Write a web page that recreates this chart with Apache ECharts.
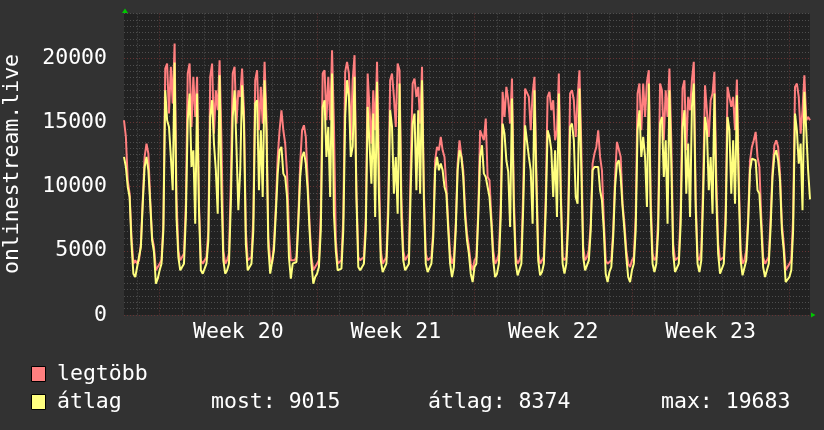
<!DOCTYPE html>
<html>
<head>
<meta charset="utf-8">
<script src="https://cdn.jsdelivr.net/npm/echarts@6/dist/echarts.min.js"></script>
<style>
  html, body { margin: 0; padding: 0; background: #323232; }
  #chart { width: 824px; height: 430px; }
</style>
</head>
<body>
<div id="chart"></div>
<script>
// 2 órás pontok, szombat 10:00-tól (Week 19) hétfő 22:00-ig (Week 24)
var legtobb = [
  15180, 13880, 10500, 9460, 6080, 4000, 4260,
  4000, 4260, 5560, 8940, 12320, 13360, 12580, 8940, 6080, 5300, 3480, 3610,
  // week 20
  4000, 4260, 7120, 19210, 19600, 15700, 19340, 16480, 21160, 9200, 5040, 4260,
  4260, 4780, 8680, 18820, 19600, 14660, 18560, 15440, 18560, 8680, 4260, 4000,
  4260, 4520, 6600, 18560, 19600, 14140, 17520, 15960, 19860, 13620, 5040, 4000,
  4260, 4780, 10500, 18820, 19340, 14920, 17520, 17000, 19210, 15960, 6600, 4260,
  4260, 4520, 7640, 18300, 19080, 14400, 17780, 14920, 19730, 15440, 6080, 4260,
  4000, 5560, 8420, 12320, 14400, 15960, 14400, 13360, 11020, 6600, 4260, 4260,
  4260, 4520, 7640, 11800, 14400, 14790, 13880, 10500, 7120, 4520, 3480, 3740,
  // week 21
  4000, 4260, 7900, 18820, 19080, 15180, 18560, 15180, 20640, 14920, 5820, 4000,
  4000, 4260, 7640, 18950, 19730, 18820, 13620, 18300, 20250, 9720, 4520, 4260,
  4260, 4520, 7640, 18820, 18820, 13360, 17520, 14400, 19730, 11800, 5040, 4000,
  4260, 4520, 9200, 18300, 18820, 17000, 14660, 19600, 19080, 9200, 5040, 4260,
  4260, 4780, 11800, 18040, 18430, 17000, 17780, 14920, 19340, 9720, 4780, 4260,
  4260, 4520, 6600, 12060, 13100, 12840, 13880, 12840, 12320, 9980, 7120, 4780,
  4000, 4520, 7120, 11800, 13620, 13620, 11280, 8160, 6340, 5300, 4000, 3480,
  // week 22
  4260, 4520, 8160, 14400, 14530, 13620, 15310, 10760, 10500, 7640, 5040, 4000,
  4260, 4780, 8680, 17390, 15440, 17780, 16740, 14920, 18430, 9200, 4520, 4000,
  4260, 4780, 9720, 17650, 17520, 17000, 14400, 17260, 18560, 11280, 4780, 4000,
  4260, 4520, 9200, 17000, 17390, 15960, 16740, 13620, 14400, 18820, 10240, 4520,
  4260, 4520, 8160, 17260, 17520, 16740, 13880, 17000, 19080, 13100, 5300, 4260,
  4520, 5040, 7120, 11800, 12580, 13100, 14400, 12320, 11280, 7380, 4260, 4000,
  4000, 4260, 6600, 10760, 13490, 13620, 12320, 8680, 7120, 5040, 4000, 3740,
  // week 23
  4260, 4520, 7640, 17260, 18040, 14400, 18040, 15440, 18170, 19080, 9200, 4780,
  4260, 4520, 7640, 18040, 17520, 13620, 17520, 15440, 19210, 13620, 5560, 4260,
  4260, 4520, 8160, 17650, 18300, 12840, 17000, 15960, 18300, 19730, 9200, 4520,
  4260, 5040, 10500, 17910, 18040, 13880, 16740, 17260, 18950, 10760, 5560, 4260,
  4260, 4520, 8160, 17780, 17910, 16220, 17000, 14400, 18350, 10760, 5040, 4000,
  4260, 5040, 7640, 12060, 13100, 13620, 14270, 12320, 11540, 7640, 4520, 4000,
  4260, 4520, 7640, 11280, 13230, 13620, 13100, 11020, 7120, 5560, 3480, 3480,
  // week 24
  4000, 4260, 7640, 17780, 18040, 17000, 14140, 15960, 18690, 15180, 15440, 15180
];

var atlag = [
  12320, 11540, 9980, 9200, 5560, 3220, 2960,
  3740, 3870, 5300, 8680, 11540, 12320, 11280, 8680, 5820, 4910, 2440, 2830,
  // week 20
  3480, 4000, 6600, 17520, 15180, 14660, 12320, 9720, 19683, 7640, 4520, 3480,
  3480, 4000, 7640, 15180, 17260, 11540, 12840, 7120, 17260, 8160, 3480, 3220,
  3220, 4000, 5820, 15440, 16740, 13360, 11280, 7900, 18690, 9720, 4260, 3220,
  3480, 4000, 8680, 15440, 17520, 13100, 8160, 11280, 17910, 14920, 5560, 3480,
  3350, 4000, 6600, 16480, 16740, 9720, 14400, 9200, 18300, 14400, 5300, 3220,
  3090, 5040, 7900, 11020, 12840, 13100, 11020, 10760, 9200, 4520, 2830, 4000,
  4000, 4130, 7120, 10760, 12320, 12710, 11800, 9720, 6600, 4000, 2440, 2960,
  // week 21
  3220, 3740, 6600, 16220, 16740, 12320, 14660, 9200, 18820, 7900, 5040, 3480,
  3480, 3610, 6600, 15440, 18300, 17000, 12320, 13100, 18560, 9200, 3740, 3480,
  3740, 4000, 6600, 16220, 13360, 10240, 15700, 7640, 18170, 9460, 4260, 3350,
  3480, 4000, 7900, 15960, 14660, 9460, 12320, 7900, 18040, 7640, 4260, 3480,
  3480, 4000, 9980, 14920, 15700, 9720, 15960, 9460, 18300, 8940, 4000, 3350,
  3480, 4000, 6080, 11280, 12320, 11280, 11800, 11280, 9980, 9460, 6600, 4000,
  2960, 3740, 6600, 11280, 12840, 12320, 10760, 7640, 5820, 4780, 3220, 2570,
  // week 22
  3740, 4000, 7640, 12320, 13230, 11020, 10760, 9980, 9200, 7120, 4260, 2960,
  3220, 4000, 7640, 14920, 14140, 12060, 11150, 6860, 16870, 8160, 4000, 3090,
  3220, 4000, 8420, 14790, 14920, 12320, 11280, 7120, 17520, 10240, 4260, 3090,
  3350, 4000, 8160, 14400, 13880, 12840, 9200, 12840, 7640, 17260, 9460, 4000,
  3220, 4000, 7120, 14660, 14920, 13620, 9200, 8680, 17650, 11280, 4520, 3480,
  3480, 4260, 6600, 11280, 11540, 11670, 11540, 9720, 8940, 6600, 3220, 2570,
  3350, 3740, 6080, 9980, 11800, 12060, 10760, 8420, 6600, 4520, 2960, 2570,
  // week 23
  3480, 4000, 6600, 14400, 15960, 12320, 13880, 12320, 8420, 18040, 8160, 4000,
  3350, 4000, 6600, 14920, 15440, 10760, 13620, 7120, 17520, 11800, 4780, 3350,
  3350, 4000, 7120, 14660, 15960, 9460, 13360, 7640, 16220, 18040, 8420, 4000,
  3350, 4260, 9200, 15440, 14400, 9720, 12320, 7900, 17260, 9200, 4780, 3220,
  3350, 4000, 7120, 15440, 14400, 9460, 13620, 8680, 17130, 9720, 4260, 3090,
  3090, 4260, 7120, 11280, 12190, 12190, 12060, 9720, 9460, 6860, 3740, 2960,
  3480, 4000, 6860, 10760, 12450, 12840, 12060, 10500, 6600, 5040, 2570, 2440,
  // week 24
  2960, 3480, 6600, 15700, 14400, 11800, 13360, 8160, 17390, 14400, 11280, 9015
];

var weekLabels = ['Week 20', 'Week 21', 'Week 22', 'Week 23'];
var yLabels = [0, 5000, 10000, 15000, 20000];
var most = 9015, atlagErtek = 8374, maxErtek = 19683;

var FONT = 'DejaVu Sans Mono';
var start = Date.UTC(2015, 4, 9, 10); // szombat 10:00
var times = legtobb.map(function (v, i) { return start + i * 2 * 3600 * 1000; });
var categories = times.map(function (t) { return String(t); });

function isMidnight(i) { return new Date(times[i]).getUTCHours() === 0; }
var weekLabelAt = {};
var wk = 0;
times.forEach(function (t, i) {
  var d = new Date(t);
  if (d.getUTCDay() === 4 && d.getUTCHours() === 12 && wk < weekLabels.length) {
    weekLabelAt[i] = weekLabels[wk++];
  }
});

var minorColor = '#4e4e4e';
var majorColor = '#663434';
// hétfőnként piros vonal (első éjfél vasárnap)
var xLineColors = [minorColor, majorColor, minorColor, minorColor, minorColor, minorColor, minorColor];
var yLineColors = [majorColor];
for (var k = 0; k < 9; k++) yLineColors.push(minorColor);

var chart = echarts.init(document.getElementById('chart'));
chart.setOption({
  backgroundColor: '#323232',
  animation: false,
  grid: {
    left: 124, right: 14, top: 13.5, bottom: 115,
    show: true, backgroundColor: '#222222', borderWidth: 0
  },
  xAxis: {
    type: 'category',
    data: categories,
    boundaryGap: false,
    axisLine: { show: false },
    axisTick: { show: false },
    axisLabel: {
      interval: function (index) { return weekLabelAt[index] !== undefined; },
      formatter: function (value, index) { return weekLabelAt[index] || ''; },
      color: '#ffffff',
      fontFamily: FONT,
      fontSize: 21.5,
      margin: 6
    },
    splitLine: {
      show: true,
      interval: function (index) { return isMidnight(index); },
      lineStyle: { color: xLineColors, width: 1, type: [1, 2] }
    }
  },
  yAxis: {
    type: 'value',
    min: 0,
    max: 23500,
    interval: 500,
    axisLine: { show: false },
    axisTick: { show: false },
    axisLabel: {
      formatter: function (v) { return yLabels.indexOf(v) >= 0 ? String(v) : ''; },
      color: '#ffffff',
      fontFamily: FONT,
      fontSize: 21.5,
      margin: 17
    },
    splitLine: {
      show: true,
      lineStyle: { color: yLineColors, width: 1, type: [1, 2] }
    }
  },
  series: [{
    name: 'legtöbb',
    type: 'line',
    data: legtobb,
    showSymbol: false,
    color: '#ff7f7f',
    lineStyle: { width: 2, color: '#ff7f7f' },
    z: 3
  }, {
    name: 'átlag',
    type: 'line',
    data: atlag,
    showSymbol: false,
    color: '#ffff7f',
    lineStyle: { width: 2, color: '#ffff7f' },
    z: 4
  }],
  graphic: [
    {
      type: 'text', x: 12, y: 164, rotation: Math.PI / 2,
      style: { text: 'onlinestream.live', fill: '#ffffff', font: '21.5px "' + FONT + '"', align: 'center', verticalAlign: 'middle' }
    },
    { type: 'polygon', shape: { points: [[122, 13], [128, 13], [125, 8.5]] }, style: { fill: '#00c800' } },
    { type: 'polygon', shape: { points: [[811, 312.5], [811, 317.5], [815.5, 315]] }, style: { fill: '#00c800' } },
    { type: 'rect', shape: { x: 31.5, y: 366.5, width: 14, height: 15 }, style: { fill: '#ff7f7f', stroke: '#000000', lineWidth: 1 } },
    { type: 'rect', shape: { x: 31.5, y: 394.5, width: 14, height: 15 }, style: { fill: '#ffff7f', stroke: '#000000', lineWidth: 1 } },
    { type: 'text', x: 57, y: 374, style: { text: 'legtöbb', fill: '#ffffff', font: '21.5px "' + FONT + '"', verticalAlign: 'middle' } },
    { type: 'text', x: 57, y: 402, style: { text: 'átlag', fill: '#ffffff', font: '21.5px "' + FONT + '"', verticalAlign: 'middle' } },
    { type: 'text', x: 211, y: 402, style: { text: 'most: ' + most, fill: '#ffffff', font: '21.5px "' + FONT + '"', verticalAlign: 'middle' } },
    { type: 'text', x: 428, y: 402, style: { text: 'átlag: ' + atlagErtek, fill: '#ffffff', font: '21.5px "' + FONT + '"', verticalAlign: 'middle' } },
    { type: 'text', x: 661, y: 402, style: { text: 'max: ' + maxErtek, fill: '#ffffff', font: '21.5px "' + FONT + '"', verticalAlign: 'middle' } }
  ]
});
</script>
</body>
</html>
